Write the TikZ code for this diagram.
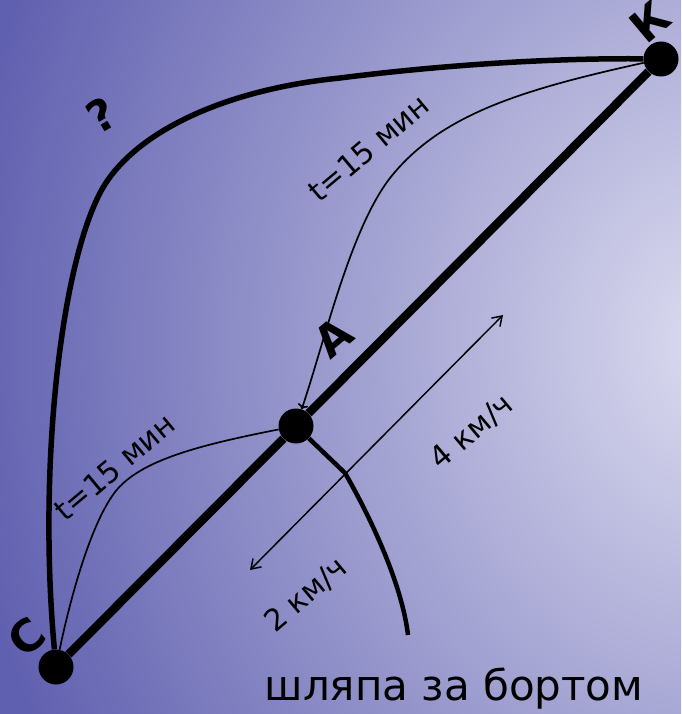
\documentclass[tikz,border=0pt]{standalone}
\usepackage{fontspec}
\setmainfont{DejaVu Sans}
\usetikzlibrary{arrows.meta}
\definecolor{bgdark}{RGB}{96,96,176}
\definecolor{bglight}{RGB}{220,220,240}
\tikzset{
    point/.style={circle, fill=black, minimum size=35pt, inner sep=0pt},
    river/.style={line width=8.5pt},
    detour/.style={line width=5.5pt},
    swim/.style={line width=1.7pt},
    drift/.style={line width=4.5pt},
    speed/.style={line width=1.5pt, {Straight Barb[length=9pt,width=12pt]}-{Straight Barb[length=9pt,width=12pt]}},
    tag/.style={font=\fontsize{30}{32}\selectfont, rotate=40, inner sep=0pt},
    letter/.style={font=\bfseries\fontsize{44}{46}\selectfont, inner sep=0pt},
    }

\begin{document}
\begin{tikzpicture}[x=1pt, y=-1pt]
    % background
    \useasboundingbox (0,0) rectangle (681,714);
    \fill[bgdark] (0,0) rectangle (681,714);
    \begin{scope}
    \clip (0,0) rectangle (681,714);
    \shade[inner color=bglight, outer color=bgdark] (720,340) ellipse [x radius=760pt, y radius=900pt];
    \end{scope}

    % points
    \node[point] (ptC) at (56,667) {};
    \node[point] (ptA) at (296,426) {};
    \node[point] (ptK) at (661,59) {};
    \coordinate (hatJ) at (345,473);
    \coordinate (hatE) at (408,635);
    \coordinate (spdLo) at (250,570);
    \coordinate (spdHi) at (503,315);

    % paths
    \draw[river] (ptC) -- (ptA) -- (ptK);
    \draw[detour] (ptC) .. controls (38,470) and (60,270) .. (100,193)
        .. controls (130,135) and (220,90) .. (340,78)
        .. controls (450,64) and (560,58) .. (ptK);
    \draw[swim, -{To[length=5pt]}] (ptK) .. controls (520,90) and (440,115) .. (390,178)
        .. controls (350,230) and (325,340) .. (ptA);
    \draw[swim] (ptA) .. controls (200,445) and (140,460) .. (115,492)
        .. controls (90,525) and (70,600) .. (ptC);
    \draw[drift] (ptA) -- (hatJ) .. controls (372,520) and (402,585) .. (hatE);
    \draw[speed] (spdLo) -- (spdHi);

    % labels
    \node[letter, rotate=40] (lblC) at (27,637) {С};
    \node[letter, rotate=40] (lblA) at (333,337) {А};
    \node[letter, rotate=40] (lblK) at (650,22) {К};
    \node[letter, rotate=30] (lblQ) at (101,115) {?};
    \node[tag] (lblT1) at (369,148) {t=15 мин};
    \node[tag] (lblT2) at (115,467) {t=15 мин};
    \node[tag] (lbl4) at (472,432) {4 км/ч};
    \node[tag] (lbl2) at (306,595) {2 км/ч};
    \node[font=\fontsize{42}{44}\selectfont, anchor=base] (lblHat) at (454,700) {шляпа за бортом};
\end{tikzpicture}
\end{document}
